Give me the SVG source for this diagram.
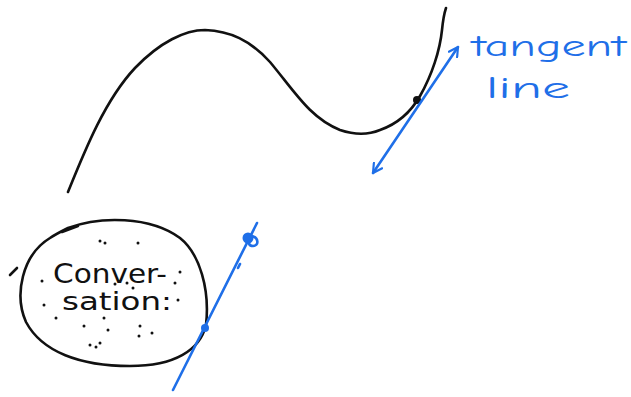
<svg xmlns="http://www.w3.org/2000/svg" width="631" height="397" viewBox="0 0 631 397">
<style>
.ink{fill:none;stroke:#111;stroke-width:2.6;stroke-linecap:round;stroke-linejoin:round}
.blue{fill:none;stroke:#1f6fe8;stroke-width:2.6;stroke-linecap:round;stroke-linejoin:round}
.dot{fill:#111}
.bt{font-family:"Comic Neue","DejaVu Sans",sans-serif;fill:#1f6fe8}
.kt{font-family:"DejaVu Sans",sans-serif;fill:#111}
</style>
<defs>
<marker id="ah" viewBox="0 0 12 12" refX="10" refY="6" markerWidth="12" markerHeight="12" markerUnits="userSpaceOnUse" orient="auto-start-reverse">
<path d="M1,1 L10,6 L1,11" fill="none" stroke="#1f6fe8" stroke-width="2.2" stroke-linecap="round" stroke-linejoin="round"/>
</marker>
</defs>
<g id="curve">
<path class="ink" d="M68,192 C85,150 105,100 135,68 C160,42 185,30 205,30 C230,31 250,40 270,62 C295,92 310,118 340,130 C355,135 368,135 380,130 C400,123 412,110 420,96 C432,75 440,50 442,30 C443,20 444,14 446,8"/>
<circle class="dot" cx="417" cy="100" r="4"/>
</g>
<g id="tangent">
<line class="blue" x1="373" y1="173" x2="458" y2="47" marker-start="url(#ah)" marker-end="url(#ah)"/>
<text class="bt" x="472" y="56" font-size="30" textLength="154" lengthAdjust="spacingAndGlyphs">tangent</text>
<text class="bt" x="486" y="98" font-size="30" textLength="84" lengthAdjust="spacingAndGlyphs">line</text>
</g>
<g id="conversation">
<path class="ink" d="M68,228 C100,216 150,216 180,238 C200,254 210,290 206,325 C200,350 175,366 130,366 C80,366 42,352 26,322 C14,295 22,255 50,238 C56,234 62,231 68,228 Z"/>
<path class="ink" d="M62,232 L78,226"/>
<path class="ink" d="M10,275 L17,268"/>
<text class="kt" x="53" y="283" font-size="27" textLength="114" lengthAdjust="spacingAndGlyphs">Conver-</text>
<text class="kt" x="62" y="310" font-size="25" textLength="110" lengthAdjust="spacingAndGlyphs">sation:</text>
<g class="dot">
<circle cx="100" cy="241" r="1.5"/><circle cx="105" cy="243" r="1.5"/><circle cx="138" cy="243" r="1.5"/>
<circle cx="42" cy="281" r="1.5"/><circle cx="180" cy="272" r="1.5"/><circle cx="175" cy="283" r="1.5"/>
<circle cx="44" cy="305" r="1.5"/><circle cx="56" cy="318" r="1.5"/><circle cx="178" cy="300" r="1.5"/>
<circle cx="104" cy="318" r="1.5"/><circle cx="84" cy="326" r="1.5"/><circle cx="108" cy="330" r="1.5"/>
<circle cx="140" cy="326" r="1.5"/><circle cx="152" cy="333" r="1.5"/><circle cx="139" cy="336" r="1.5"/>
<circle cx="90" cy="345" r="1.5"/><circle cx="96" cy="347" r="1.5"/><circle cx="100" cy="343" r="1.5"/>
<circle cx="127" cy="283" r="1.5"/><circle cx="133" cy="288" r="1.5"/><circle cx="115" cy="284" r="1.5"/>
</g>
</g>
<g id="secant">
<line class="blue" x1="173" y1="390" x2="257" y2="223"/>
<circle cx="205" cy="328" r="4" fill="#1f6fe8"/>
<circle cx="248" cy="238" r="5.5" fill="#1f6fe8"/>
<path class="blue" d="M252,236 C259,238 259,246 253,246 C249,246 248,243 250,240" stroke-width="2"/>
<path class="blue" d="M240,264 L238,268" stroke-width="2"/>
</g>
</svg>
